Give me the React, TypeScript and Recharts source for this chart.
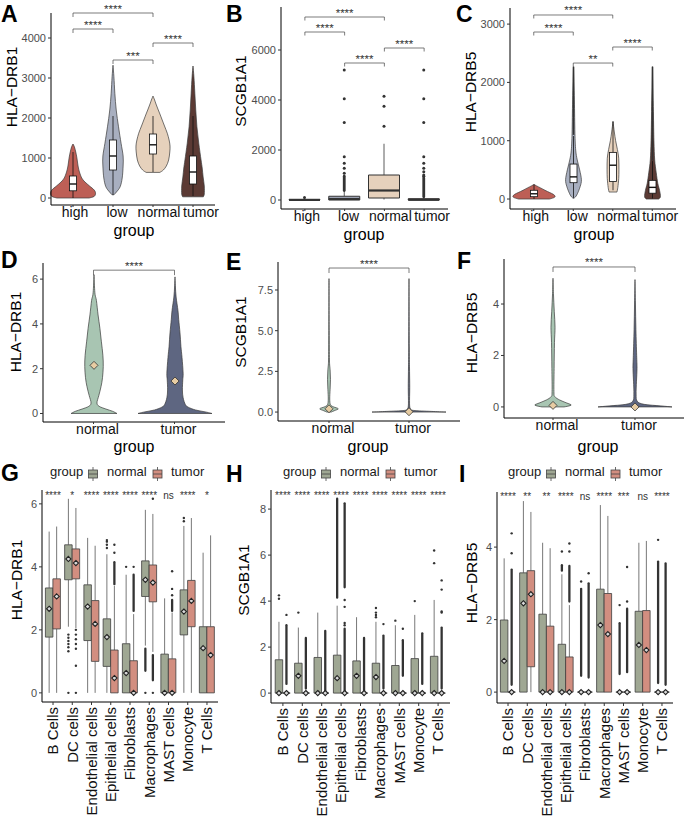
import React from 'react';
import { ComposedChart, Bar, XAxis, YAxis, ReferenceLine, ReferenceDot, Legend } from 'recharts';

const FONT = '"Liberation Sans", Arial, Helvetica, sans-serif';

/* ===================== DATA ===================== */
const genes = ['HLA\u2212DRB1', 'SCGB1A1', 'HLA\u2212DRB5'];
const xTitle = 'group';

// ---- Row 1 (A–C): groups
const groupsABC = ['high', 'low', 'normal', 'tumor'];
const colorsABC = ['#BD5F56', '#A8AFC0', '#E6D1BC', '#5B3A34'];

// A: HLA-DRB1 violin profiles [value, relative half-width]
const violinA_high = [[0, 0.7], [40, 0.92], [120, 0.98], [200, 0.92], [300, 0.72], [400, 0.52], [500, 0.38], [650, 0.28], [800, 0.22], [1000, 0.17], [1150, 0.12], [1280, 0.06], [1350, 0]];
const violinA_low = [[80, 0.04], [150, 0.15], [280, 0.31], [500, 0.4], [800, 0.44], [1050, 0.44], [1370, 0.35], [1780, 0.24], [2200, 0.14], [2620, 0.08], [3030, 0.04], [3320, 0]];
const violinA_normal = [[640, 0.3], [700, 0.45], [800, 0.58], [950, 0.68], [1150, 0.73], [1300, 0.74], [1450, 0.7], [1620, 0.62], [1800, 0.5], [1950, 0.4], [2100, 0.3], [2200, 0.23], [2350, 0.13], [2450, 0.07], [2550, 0]];
const violinA_tumor = [[30, 0.45], [100, 0.49], [300, 0.49], [525, 0.44], [750, 0.4], [950, 0.35], [1370, 0.25], [1780, 0.17], [2200, 0.12], [2620, 0.08], [3030, 0.04], [3300, 0]];
// box stats [whiskerLow, q1, median, q3, whiskerHigh]
const boxA = [[0, 180, 350, 550, 1150], [80, 700, 1050, 1450, 2050], [650, 1100, 1330, 1600, 2050], [50, 350, 650, 1050, 2050]];
const ticksA = [0, 1000, 2000, 3000, 4000];
const bracketsA: [string, string, number, string][] = [['high', 'normal', 4625, '****'], ['high', 'low', 4225, '****'], ['low', 'normal', 3450, '***'], ['normal', 'tumor', 3875, '****']];

// B: SCGB1A1 boxplots
const boxB = [[0, 0, 5, 20, 60], [0, 0, 40, 150, 370], [20, 80, 380, 1000, 2250], [0, 0, 10, 50, 120]];
const outB = [[100], [1070, 1270, 1470, 1730, 3100, 4050, 5200], [2950, 3750, 4150], [950, 1000, 1130, 1270, 1470, 1730, 3100, 4050, 5200]];
const denseB = [[], [[380, 950]], [], [[130, 880]]];
const ticksB = [0, 2000, 4000, 6000];
const bracketsB: [string, string, number, string][] = [['high', 'normal', 7320, '****'], ['high', 'low', 6720, '****'], ['low', 'normal', 5480, '****'], ['normal', 'tumor', 6080, '****']];

// C: HLA-DRB5 violins
const violinC_high = [[0, 0.7], [20, 0.88], [45, 0.96], [80, 0.88], [110, 0.72], [150, 0.5], [190, 0.3], [225, 0.12], [250, 0]];
const violinC_low = [[15, 0.03], [70, 0.15], [210, 0.3], [330, 0.36], [500, 0.28], [670, 0.17], [840, 0.1], [1130, 0.065], [1700, 0.04], [2270, 0]];
const violinC_normal = [[120, 0.18], [200, 0.22], [350, 0.26], [500, 0.27], [700, 0.26], [850, 0.2], [1000, 0.12], [1150, 0.06], [1330, 0]];
const violinC_tumor = [[0, 0.28], [40, 0.36], [150, 0.32], [270, 0.24], [450, 0.17], [670, 0.1], [1000, 0.065], [1500, 0.04], [2270, 0]];
const boxC = [[0, 40, 90, 150, 250], [20, 280, 380, 600, 1080], [150, 300, 580, 800, 1330], [10, 100, 200, 320, 650]];
const denseC = [null, [1100, 2270], null, [660, 2270]];
const ticksC = [0, 1000, 2000, 3000];
const bracketsC: [string, string, number, string][] = [['high', 'normal', 3156, '****'], ['high', 'low', 2864, '****'], ['low', 'normal', 2332, '**'], ['normal', 'tumor', 2607, '****']];

// ---- Row 2 (D–F): normal vs tumor violins
const groupsDEF = ['normal', 'tumor'];
const colorsDEF = ['#A8C5B2', '#5E6681'];
const violinD_normal = [[0, 0.62], [0.1, 0.5], [0.2, 0.32], [0.32, 0.14], [0.47, 0.08], [0.8, 0.13], [1.2, 0.19], [1.6, 0.23], [2.1, 0.25], [2.6, 0.24], [3.2, 0.2], [3.8, 0.16], [4.4, 0.11], [5.05, 0.065], [5.3, 0.03], [5.7, 0.012], [6.2, 0]];
const violinD_tumor = [[0, 1.0], [0.06, 0.85], [0.16, 0.55], [0.28, 0.36], [0.4, 0.28], [0.7, 0.22], [1.05, 0.2], [1.5, 0.21], [1.8, 0.22], [2.5, 0.19], [3.0, 0.16], [3.6, 0.135], [4.2, 0.1], [4.6, 0.08], [5.2, 0.03], [5.7, 0.01], [6.1, 0]];
const meanD = [2.15, 1.45];
const ticksD = [0, 2, 4, 6];
const bracketsD: [string, string, number, string][] = [['normal', 'tumor', 6.4, '****']];

const violinE_normal = [[0, 0.06], [0.08, 0.14], [0.2, 0.25], [0.32, 0.12], [0.45, 0.04], [0.8, 0.02], [1.4, 0.03], [2.0, 0.04], [2.6, 0.03], [3.2, 0.012], [5, 0.006], [8.2, 0]];
const violinE_tumor = [[0, 1.0], [0.04, 0.6], [0.1, 0.12], [0.2, 0.04], [0.5, 0.015], [1.5, 0.02], [2.5, 0.015], [4, 0.008], [8.2, 0]];
const meanE = [0.2, 0.02];
const ticksE = [0, 2.5, 5, 7.5];
const bracketsE: [string, string, number, string][] = [['normal', 'tumor', 8.85, '****']];

const violinF_normal = [[0, 0.3], [0.07, 0.49], [0.16, 0.36], [0.27, 0.18], [0.4, 0.05], [0.6, 0.025], [1.5, 0.03], [2.5, 0.04], [3.1, 0.055], [3.7, 0.035], [4.4, 0.012], [5.0, 0]];
const violinF_tumor = [[0, 1.0], [0.04, 0.7], [0.1, 0.25], [0.22, 0.06], [0.5, 0.03], [1.0, 0.04], [1.5, 0.055], [2.0, 0.045], [3.0, 0.025], [4.0, 0.012], [4.95, 0]];
const meanF = [0.06, 0.0];
const ticksF = [0, 2, 4];
const bracketsF: [string, string, number, string][] = [['normal', 'tumor', 5.44, '****']];

// ---- Row 3 (G–I): by cell type
const cellTypes = ['B Cells', 'DC cells', 'Endothelial cells', 'Epithelial cells', 'Fibroblasts', 'Macrophages', 'MAST cells', 'Monocyte', 'T Cells'];
const colorsGHI = ['#9FA793', '#D28E80'];

const gNormalBox = [[0, 1.77, 2.7, 3.33, 5.12], [2.1, 3.59, 4.3, 4.7, 6.16], [0, 1.66, 2.6, 3.43, 4.92], [0, 0.84, 1.8, 2.35, 4.4], [0, 0, 0.6, 1.56, 3.75], [1.5, 3.06, 3.6, 4.19, 5.81], [0, 0, 0, 1.23, 3.0], [0, 1.84, 2.6, 3.27, 5.3], [0, 0, 1.2, 2.1, 4.45]];
const gNormalMean = [2.67, 4.25, 2.74, 1.77, 0.63, 3.59, 0, 2.58, 1.42];
const gNormalOut = [[], [0, 1.32, 1.45, 1.55, 1.65, 1.75, 1.85], [], [4.6, 4.7, 4.8, 4.85], [4.0], [0], [], [5.45, 5.55], []];
const gNormalDense = [[], [], [], [], [], [[0.7, 1.4]], [], [], []];
const gTumorBox = [[0, 2.03, 3.0, 3.62, 5.28], [2.05, 3.62, 4.2, 4.57, 5.87], [0, 1.0, 2.2, 2.93, 4.67], [0, 0, 0.5, 1.36, 3.4], [0, 0, 0, 1.02, 2.5], [1.3, 2.89, 3.5, 4.06, 5.68], [0, 0, 0, 1.08, 2.55], [0, 2.1, 2.9, 3.57, 5.55], [0, 0, 1.0, 2.1, 5.0]];
const gTumorMean = [3.06, 4.12, 2.19, 0.47, 0, 3.5, 0, 2.92, 1.2];
const gTumorOut = [[], [0, 0.86, 1.4, 1.55, 1.7, 1.85, 2.0], [], [4.45, 4.7], [4.0], [0, 6.16], [3.1, 3.3, 3.86], [], []];
const gTumorDense = [[], [], [], [[3.45, 4.15]], [[2.6, 3.75]], [[0.4, 1.2]], [[2.6, 2.95]], [], []];
const gSig = ['****', '*', '****', '****', '****', '****', 'ns', '****', '*'];
const ticksG = [0, 2, 4, 6];

const hNormalBox = [[0, 0, 0, 1.45, 3.1], [0, 0, 0, 1.3, 2.85], [0, 0, 0, 1.55, 3.5], [0, 0, 0, 1.65, 3.8], [0, 0, 0, 1.4, 3.3], [0, 0, 0, 1.3, 3.1], [0, 0, 0, 1.2, 2.95], [0, 0, 0, 1.5, 3.4], [0, 0, 0, 1.6, 4.05]];
const hNormalMean = [0, 0.75, 0, 0.65, 0.75, 0.7, 0, 0, 0];
const hNormalOut = [[4.1, 4.25], [3.5], [], [], [], [3.3, 3.4, 3.5, 3.7], [3.15], [4.0], [5.65, 6.2]];
const hNormalDense = [[], [], [], [[4.15, 8.45]], [], [], [], [], []];
const hTumorBox = [[0, 0, 0, 0, 0], [0, 0, 0, 0, 0], [0, 0, 0, 0, 0], [0, 0, 0, 0, 0], [0, 0, 0, 0, 0], [0, 0, 0, 0, 0], [0, 0, 0, 0, 0], [0, 0, 0, 0, 0], [0, 0, 0, 0, 0]];
const hTumorMean = [0, 0, 0, 0, 0, 0, 0, 0, 0];
const hTumorOut = [[3.4], [], [], [2.95, 3.05, 3.75, 4.05], [], [3.0], [2.8], [], [3.5, 3.55, 4.5, 4.9]];
const hTumorDense = [[[0.4, 2.95]], [[0.2, 2.4]], [[0.1, 2.7]], [[0, 2.8], [4.6, 8.25]], [[0.1, 2.4]], [[0.2, 2.5]], [[0.75, 2.3]], [[0.4, 2.6]], [[0.2, 2.85]]];
const hSig = ['****', '****', '****', '****', '****', '****', '****', '****', '****'];
const ticksH = [0, 2, 4, 6, 8];

const iNormalBox = [[0, 0, 0, 1.99, 3.69], [0, 0, 1.9, 3.29, 5.27], [0, 0, 0, 2.15, 4.12], [0, 0, 0, 1.32, 3.25], [0, 0, 0, 0, 0], [0, 0, 1.5, 2.84, 5.16], [0, 0, 0, 0, 0], [0, 0, 0.8, 2.23, 4.12], [0, 0, 0, 0, 0]];
const iNormalMean = [0.86, 2.45, 0, 0, 0, 1.85, 0, 1.3, 0];
const iNormalOut = [[], [], [], [3.88], [3.05], [], [2.4], [], [4.2]];
const iNormalDense = [[], [], [], [[3.35, 3.5]], [[0.45, 2.85]], [], [[0.5, 1.9]], [], [[0.25, 3.6]]];
const iTumorBox = [[0, 0, 0, 0, 0], [0, 0.7, 2.6, 3.35, 4.97], [0, 0, 0, 1.82, 3.97], [0, 0, 0, 0.97, 2.4], [0, 0, 0, 0, 0], [0, 0, 1.2, 2.72, 4.86], [0, 0, 0, 0, 0], [0, 0, 0.7, 2.25, 4.17], [0, 0, 0, 0, 0]];
const iTumorMean = [0, 2.7, 0, 0, 0, 1.6, 0, 1.16, 0];
const iTumorOut = [[3.83, 4.38], [], [], [3.88, 4.1], [3.28], [], [2.5, 3.45], [], []];
const iTumorDense = [[[0.2, 3.38]], [], [], [[2.5, 3.48]], [[0.4, 3.0]], [], [[0.55, 2.3]], [], [[0.2, 3.55]]];
const iSig = ['****', '**', '**', '****', 'ns', '****', '***', 'ns', '****'];
const ticksI = [0, 2, 4];

/* ===================== HELPERS ===================== */
type BoxRec = { stats: number[]; mean: number | null; out: number[]; dense: number[][]; lo: number; hi: number };

function mkBox(stats: number[], mean: number | null, out: number[], dense: number[][]): BoxRec {
  const all: number[] = [...stats, ...out];
  dense.forEach((r) => all.push(r[0], r[1]));
  if (mean != null) all.push(mean);
  return { stats, mean, out, dense, lo: Math.min(...all), hi: Math.max(...all) };
}

function violinRow(name: string, profile: number[][], box: number[] | null, mean: number | null, dense: number[] | null) {
  const vals: number[] = profile.map((p) => p[0]);
  if (box) vals.push(...box);
  if (mean != null) vals.push(mean);
  if (dense) vals.push(...dense);
  return { name, profile, box, mean, dense, lo: Math.min(...vals), hi: Math.max(...vals) };
}

function spline(pts: number[][]): string {
  let d = '';
  for (let i = 0; i < pts.length - 1; i++) {
    const p0 = pts[i - 1] || pts[i];
    const p1 = pts[i];
    const p2 = pts[i + 1];
    const p3 = pts[i + 2] || p2;
    const c1x = p1[0] + (p2[0] - p0[0]) / 6;
    const c1y = p1[1] + (p2[1] - p0[1]) / 6;
    const c2x = p2[0] - (p3[0] - p1[0]) / 6;
    const c2y = p2[1] - (p3[1] - p1[1]) / 6;
    d += ` C${c1x},${c1y} ${c2x},${c2y} ${p2[0]},${p2[1]}`;
  }
  return d;
}

function diamondPath(cx: number, cy: number, s: number) {
  return `M${cx},${cy - s} L${cx + s},${cy} L${cx},${cy + s} L${cx - s},${cy} Z`;
}

function violinShape(colors: string[], halfPx: number, withBox: boolean, withMean: boolean) {
  return (props: any) => {
    const { x, y, width, height, payload, index } = props;
    if (!payload) return <g />;
    const { lo, hi } = payload;
    const toPx = (v: number) => y + (height * (hi - v)) / (hi - lo);
    const cx = x + width / 2;
    const prof: number[][] = payload.profile;
    const R = prof.map(([v, w]) => [cx + w * halfPx, toPx(v)]);
    const Lf = prof.map(([v, w]) => [cx - w * halfPx, toPx(v)]).reverse();
    const d = `M${Lf[Lf.length - 1][0]},${Lf[Lf.length - 1][1]} L${R[0][0]},${R[0][1]}${spline(R)} L${Lf[0][0]},${Lf[0][1]}${spline(Lf)} Z`;
    const els: any[] = [<path key="v" d={d} fill={colors[index]} stroke="#3a3a3a" strokeWidth={0.7} />];
    if (payload.dense) {
      els.push(<line key="dn" x1={cx} x2={cx} y1={toPx(payload.dense[0])} y2={toPx(payload.dense[1])} stroke="#333" strokeWidth={1.6} />);
    }
    if (withBox && payload.box) {
      const [wl, q1, med, q3, wh] = payload.box;
      const bw = 3.5;
      els.push(<line key="w1" x1={cx} x2={cx} y1={toPx(wl)} y2={toPx(q1)} stroke="#111" strokeWidth={0.8} />);
      els.push(<line key="w2" x1={cx} x2={cx} y1={toPx(q3)} y2={toPx(wh)} stroke="#111" strokeWidth={0.8} />);
      els.push(<rect key="b" x={cx - bw} y={toPx(q3)} width={bw * 2} height={toPx(q1) - toPx(q3)} fill="#fff" stroke="#111" strokeWidth={0.8} />);
      els.push(<line key="m" x1={cx - bw} x2={cx + bw} y1={toPx(med)} y2={toPx(med)} stroke="#111" strokeWidth={1.4} />);
    }
    if (withMean && payload.mean != null) {
      els.push(<path key="mn" d={diamondPath(cx, toPx(payload.mean), 4)} fill="#E7CCA3" stroke="#333" strokeWidth={0.8} />);
    }
    return <g>{els}</g>;
  };
}

type BoxOpts = { stroke: string; sw: number; whisk: string; medW: number; ptR: number; denseW: number; meanS: number };

function boxShape(pick: (p: any) => BoxRec, colorOf: (i: number) => string, o: BoxOpts) {
  return (props: any) => {
    const { x, y, width, height, payload, index } = props;
    if (!payload) return <g />;
    const rec = pick(payload);
    const span = rec.hi - rec.lo || 1;
    const toPx = (v: number) => y + (height * (rec.hi - v)) / span;
    const cx = x + width / 2;
    const [wl, q1, med, q3, wh] = rec.stats;
    const els: any[] = [];
    els.push(<line key="w1" x1={cx} x2={cx} y1={toPx(wl)} y2={toPx(q1)} stroke={o.whisk} strokeWidth={0.8} />);
    els.push(<line key="w2" x1={cx} x2={cx} y1={toPx(q3)} y2={toPx(wh)} stroke={o.whisk} strokeWidth={0.8} />);
    const top = toPx(q3);
    const bot = toPx(q1);
    els.push(<path key="b" d={`M${x},${top} H${x + width} V${bot} H${x} Z`} fill={colorOf(index)} stroke={o.stroke} strokeWidth={o.sw} />);
    if (o.medW > 0) {
      els.push(<line key="m" x1={x} x2={x + width} y1={toPx(med)} y2={toPx(med)} stroke={o.stroke} strokeWidth={o.medW} />);
    }
    rec.dense.forEach((r, k) => {
      els.push(<line key={'d' + k} x1={cx} x2={cx} y1={toPx(r[0])} y2={toPx(r[1])} stroke="#333" strokeWidth={o.denseW} strokeLinecap="round" />);
    });
    rec.out.forEach((v, k) => {
      els.push(<circle key={'o' + k} cx={cx} cy={toPx(v)} r={o.ptR} fill="#333" />);
    });
    if (o.meanS > 0 && rec.mean != null) {
      els.push(<path key="mn" d={diamondPath(cx, toPx(rec.mean), o.meanS)} fill="#D9D9D9" stroke="#222" strokeWidth={1.1} />);
    }
    return <g>{els}</g>;
  };
}

function bracketShape(label: string, drop: number, fs: number) {
  return (p: any) => {
    const xa = Math.min(p.x1, p.x2);
    const xb = Math.max(p.x1, p.x2);
    const yy = p.y1;
    return (
      <g>
        <path d={`M${xa},${yy + drop} V${yy} H${xb} V${yy + drop}`} fill="none" stroke="#444" strokeWidth={0.7} />
        <text x={(xa + xb) / 2} y={yy - 0.5} textAnchor="middle" fontSize={fs} fill="#333" fontFamily={FONT}>{label}</text>
      </g>
    );
  };
}

// flat x tick labels; small progressive horizontal shift as in the reference
function makeXTickFlat(base: number, step: number) {
  return (props: any) => {
    const { x, y, payload, index } = props;
    const i = typeof index === 'number' ? index : 0;
    return (
      <text x={x + base + step * i} y={y + 8} textAnchor="middle" fontSize={14} fill="#111" fontFamily={FONT}>{payload.value}</text>
    );
  };
}
const XTickRow1 = makeXTickFlat(2, 2);
const XTickRow2 = makeXTickFlat(4, 0);

const XTickRot = (props: any) => {
  const { x, y, payload } = props;
  return (
    <text x={x} y={y} transform={`rotate(-90, ${x}, ${y})`} textAnchor="end" dy="0.36em" fontSize={15} fill="#111" fontFamily={FONT}>{payload.value}</text>
  );
};

type Geo = { L: number; T: number; W: number; H: number; x0: number; x1: number; y0: number; y1: number; pad: number; tick: number };

const GEO: Record<string, Geo> = {
  A: { L: 0, T: 0, W: 225, H: 245, x0: 51, x1: 215, y0: 13, y1: 205, pad: 2, tick: 2 },
  B: { L: 225, T: 0, W: 230, H: 245, x0: 281, x1: 448, y0: 7, y1: 209, pad: 4, tick: 2 },
  C: { L: 455, T: 0, W: 230, H: 245, x0: 510, x1: 676, y0: 8, y1: 209, pad: 4, tick: 2 },
  D: { L: 0, T: 245, W: 228, H: 210, x0: 43, x1: 225, y0: 263, y1: 422, pad: 10, tick: 2 },
  E: { L: 225, T: 245, W: 237, H: 210, x0: 278, x1: 460, y0: 262, y1: 421, pad: 11, tick: 2 },
  F: { L: 455, T: 245, W: 230, H: 210, x0: 504, x1: 684, y0: 259, y1: 418, pad: 8, tick: 2 },
  G: { L: 0, T: 455, W: 225, H: 364, x0: 42, x1: 218, y0: 490, y1: 702, pad: 1.4, tick: 3 },
  H: { L: 225, T: 455, W: 230, H: 364, x0: 271, x1: 450, y0: 490, y1: 703, pad: 2.2, tick: 3 },
  I: { L: 455, T: 455, W: 230, H: 364, x0: 497, x1: 673, y0: 492, y1: 703, pad: 1.4, tick: 3 },
};

function Panel(props: { geo: Geo; data: any[]; domain: number[]; ticks: number[]; xTick: any; fmt?: (v: number) => string; children: any }) {
  const { geo, data, domain, ticks, xTick, fmt, children } = props;
  return (
    <div style={{ position: 'absolute', left: geo.L, top: geo.T, width: geo.W, height: geo.H }}>
      <ComposedChart
        width={geo.W}
        height={geo.H}
        data={data}
        margin={{ top: geo.y0 - geo.T, right: geo.L + geo.W - geo.x1, bottom: 0, left: 0 }}
        barGap={0}
        barCategoryGap={0}
      >
        <XAxis
          dataKey="name"
          type="category"
          interval={0}
          padding={{ left: geo.pad, right: geo.pad }}
          height={geo.T + geo.H - geo.y1}
          axisLine={{ stroke: '#000', strokeWidth: 1 }}
          tickLine={{ stroke: '#333' }}
          tickSize={geo.tick}
          tickMargin={2}
          tick={xTick}
        />
        <YAxis
          type="number"
          domain={domain}
          ticks={ticks}
          interval={0}
          width={geo.x0 - geo.L}
          axisLine={{ stroke: '#000', strokeWidth: 1 }}
          tickLine={{ stroke: '#333' }}
          tickSize={3}
          tickMargin={2}
          tick={{ fontSize: 11, fill: '#4D4D4D', fontFamily: FONT }}
          tickFormatter={fmt}
        />
        {children}
      </ComposedChart>
    </div>
  );
}

function brackets(list: [string, string, number, string][], drop: number, fs: number) {
  return list.map((b, i) => (
    <ReferenceLine
      key={'br' + i}
      segment={[{ x: b[0], y: b[2] }, { x: b[1], y: b[2] }]}
      position="middle"
      ifOverflow="visible"
      shape={bracketShape(b[3], drop, fs)}
    />
  ));
}

function LegendKey({ x, color }: { x: number; color: string }) {
  return (
    <g>
      <line x1={x + 4.5} x2={x + 4.5} y1={12} y2={26} stroke="#444" strokeWidth={0.8} />
      <rect x={x} y={15} width={9} height={8} fill={color} stroke="#444" strokeWidth={0.8} />
      <line x1={x} x2={x + 9} y1={19} y2={19} stroke="#444" strokeWidth={0.8} />
    </g>
  );
}

function makeLegend(gx: number, w: number) {
  return () => (
    <svg width={w} height={30} style={{ display: 'block', overflow: 'visible' }}>
      <text x={gx} y={21} fontSize={13} fill="#1a1a1a" fontFamily={FONT}>{xTitle}</text>
      <LegendKey x={gx + 38.5} color={colorsGHI[0]} />
      <text x={gx + 57} y={21} fontSize={13} fill="#1a1a1a" fontFamily={FONT}>{groupsDEF[0]}</text>
      <LegendKey x={gx + 103} color={colorsGHI[1]} />
      <text x={gx + 121} y={21} fontSize={13} fill="#1a1a1a" fontFamily={FONT}>{groupsDEF[1]}</text>
    </svg>
  );
}

function sigDots(names: string[], sig: string[], yv: number) {
  return names.map((n, i) => (
    <ReferenceDot
      key={'sg' + i}
      x={n}
      y={yv}
      r={0}
      ifOverflow="visible"
      shape={(p: any) => (
        <text x={p.cx} y={p.cy} textAnchor="middle" fontSize={10} fill="#333" fontFamily={FONT}>{sig[i]}</text>
      )}
    />
  ));
}

/* ===================== BUILT TABLES ===================== */
const rowsA = groupsABC.map((n, i) => violinRow(n, [violinA_high, violinA_low, violinA_normal, violinA_tumor][i], boxA[i], null, null));
const rowsB = groupsABC.map((n, i) => ({ name: n, box: mkBox(boxB[i], null, outB[i], denseB[i]) }));
const rowsC = groupsABC.map((n, i) => violinRow(n, [violinC_high, violinC_low, violinC_normal, violinC_tumor][i], boxC[i], null, denseC[i]));
const rowsD = groupsDEF.map((n, i) => violinRow(n, [violinD_normal, violinD_tumor][i], null, meanD[i], null));
const rowsE = groupsDEF.map((n, i) => violinRow(n, [violinE_normal, violinE_tumor][i], null, meanE[i], null));
const rowsF = groupsDEF.map((n, i) => violinRow(n, [violinF_normal, violinF_tumor][i], null, meanF[i], null));
const rowsG = cellTypes.map((n, i) => ({ name: n, n: mkBox(gNormalBox[i], gNormalMean[i], gNormalOut[i], gNormalDense[i]), t: mkBox(gTumorBox[i], gTumorMean[i], gTumorOut[i], gTumorDense[i]) }));
const rowsH = cellTypes.map((n, i) => ({ name: n, n: mkBox(hNormalBox[i], hNormalMean[i], hNormalOut[i], hNormalDense[i]), t: mkBox(hTumorBox[i], hTumorMean[i], hTumorOut[i], hTumorDense[i]) }));
const rowsI = cellTypes.map((n, i) => ({ name: n, n: mkBox(iNormalBox[i], iNormalMean[i], iNormalOut[i], iNormalDense[i]), t: mkBox(iTumorBox[i], iTumorMean[i], iTumorOut[i], iTumorDense[i]) }));

const rangeKey = (d: any) => [d.lo, d.hi];
const boxOptsB: BoxOpts = { stroke: '#333', sw: 1, whisk: '#333', medW: 2.2, ptR: 1.5, denseW: 2.8, meanS: 0 };
const boxOptsGHI: BoxOpts = { stroke: '#3d3d3d', sw: 0.8, whisk: '#555', medW: 0, ptR: 1.2, denseW: 2.3, meanS: 2.6 };

function DodgeBars() {
  return [
    <Bar key="n" dataKey={(d: any) => [d.n.lo, d.n.hi]} barSize={7.5} isAnimationActive={false} shape={boxShape((p) => p.n, () => colorsGHI[0], boxOptsGHI)} />,
    <Bar key="t" dataKey={(d: any) => [d.t.lo, d.t.hi]} barSize={7.5} isAnimationActive={false} shape={boxShape((p) => p.t, () => colorsGHI[1], boxOptsGHI)} />,
  ];
}

/* ===================== APP ===================== */
export default function App() {
  const letters: [string, number, number][] = [['A', 1, 22], ['B', 226, 22], ['C', 456, 22], ['D', 1, 268], ['E', 226, 270], ['F', 457, 269], ['G', 1, 481], ['H', 226, 482], ['I', 459, 482]];
  const yLabels: [number, number, number][] = [[0, 11.5, 87], [1, 240, 91], [2, 470, 92], [0, 15, 332], [1, 240, 332], [2, 471, 333], [0, 16.5, 580], [1, 243, 580], [2, 471, 583]];
  const groupTitles: [number, number][] = [[134, 236], [364, 240], [594, 240], [134, 452], [368, 452], [598, 452]];

  return (
    <div style={{ position: 'absolute', left: 0, top: 0, width: 685, height: 819, background: '#fff', fontFamily: FONT, overflow: 'hidden' }}>
      <Panel geo={GEO.A} data={rowsA} domain={[-175, 4625]} ticks={ticksA} xTick={XTickRow1}>
        <Bar dataKey={rangeKey} barSize={20} isAnimationActive={false} shape={violinShape(colorsABC, 23, true, false)} />
        {brackets(bracketsA, 4, 11.5)}
      </Panel>

      <Panel geo={GEO.B} data={rowsB} domain={[-360, 7720]} ticks={ticksB} xTick={XTickRow1}>
        <Bar dataKey={(d: any) => [d.box.lo, d.box.hi]} barSize={31} isAnimationActive={false} shape={boxShape((p) => p.box, (i) => colorsABC[i], boxOptsB)} />
        {brackets(bracketsB, 3.5, 11.5)}
      </Panel>

      <Panel geo={GEO.C} data={rowsC} domain={[-171, 3276]} ticks={ticksC} xTick={XTickRow1}>
        <Bar dataKey={rangeKey} barSize={20} isAnimationActive={false} shape={violinShape(colorsABC, 22, true, false)} />
        {brackets(bracketsC, 3.5, 11.5)}
      </Panel>

      <Panel geo={GEO.D} data={rowsD} domain={[-0.38, 6.72]} ticks={ticksD} xTick={XTickRow2}>
        <Bar dataKey={rangeKey} barSize={30} isAnimationActive={false} shape={violinShape(colorsDEF, 37, false, true)} />
        {brackets(bracketsD, 5, 11.5)}
      </Panel>

      <Panel geo={GEO.E} data={rowsE} domain={[-0.55, 9.22]} ticks={ticksE} xTick={XTickRow2} fmt={(v) => v.toFixed(1)}>
        <Bar dataKey={rangeKey} barSize={30} isAnimationActive={false} shape={violinShape(colorsDEF, 37, false, true)} />
        {brackets(bracketsE, 5, 11.5)}
      </Panel>

      <Panel geo={GEO.F} data={rowsF} domain={[-0.43, 5.75]} ticks={ticksF} xTick={XTickRow2}>
        <Bar dataKey={rangeKey} barSize={30} isAnimationActive={false} shape={violinShape(colorsDEF, 37, false, true)} />
        {brackets(bracketsF, 5, 11.5)}
      </Panel>

      <Panel geo={GEO.G} data={rowsG} domain={[-0.29, 6.44]} ticks={ticksG} xTick={XTickRot}>
        {DodgeBars()}
        {sigDots(cellTypes, gSig, 6.16)}
        <Legend layout="horizontal" verticalAlign="middle" align="center" wrapperStyle={{ top: 0, left: 0, width: 225, height: 30 }} content={makeLegend(50, 225)} />
      </Panel>

      <Panel geo={GEO.H} data={rowsH} domain={[-0.43, 8.83]} ticks={ticksH} xTick={XTickRot}>
        {DodgeBars()}
        {sigDots(cellTypes, hSig, 8.43)}
        <Legend layout="horizontal" verticalAlign="middle" align="center" wrapperStyle={{ top: 0, left: 0, width: 230, height: 30 }} content={makeLegend(58, 230)} />
      </Panel>

      <Panel geo={GEO.I} data={rowsI} domain={[-0.3, 5.52]} ticks={ticksI} xTick={XTickRot}>
        {DodgeBars()}
        {sigDots(cellTypes, iSig, 5.3)}
        <Legend layout="horizontal" verticalAlign="middle" align="center" wrapperStyle={{ top: 0, left: 0, width: 230, height: 30 }} content={makeLegend(53, 230)} />
      </Panel>

      <svg width={685} height={819} style={{ position: 'absolute', left: 0, top: 0, pointerEvents: 'none' }}>
        {letters.map(([t, x, y]) => (
          <text key={t} x={x} y={y} fontSize={23} fontWeight="bold" fill="#000" fontFamily={FONT}>{t}</text>
        ))}
        {yLabels.map(([g, x, y], i) => (
          <text key={'yl' + i} x={x} y={y} transform={`rotate(-90, ${x}, ${y})`} textAnchor="middle" dy="0.36em" fontSize={15.5} fill="#000" fontFamily={FONT}>{genes[g]}</text>
        ))}
        {groupTitles.map(([x, y], i) => (
          <text key={'gt' + i} x={x} y={y} textAnchor="middle" fontSize={16} fill="#000" fontFamily={FONT}>{xTitle}</text>
        ))}
      </svg>
    </div>
  );
}
